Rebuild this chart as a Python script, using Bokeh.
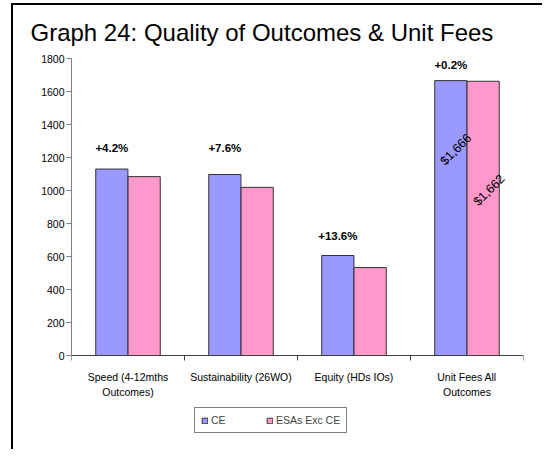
from bokeh.plotting import figure
from bokeh.models import ColumnDataSource, FixedTicker, Legend, LegendItem, LabelSet, Range1d
from bokeh.core.properties import value
from bokeh.transform import dodge
from bokeh.embed import file_html
from bokeh.resources import INLINE
import math

# ---- data ----
categories = ["Speed (4-12mths\nOutcomes)", "Sustainability (26WO)", "Equity (HDs IOs)", "Unit Fees All\nOutcomes"]
ce_values = [1130, 1097, 606, 1666]
esa_values = [1084, 1019, 533, 1662]
pct_labels = ["+4.2%", "+7.6%", "+13.6%", "+0.2%"]
fee_labels = ["$1,666", "$1,662"]
fee_values = [1666, 1662]
y_ticks = [0, 200, 400, 600, 800, 1000, 1200, 1400, 1600, 1800]
series_names = ["CE", "ESAs Exc CE"]

FONT = "Liberation Sans"
CE_COLOR = "#9999FF"
ESA_COLOR = "#FF99CC"
W, H = 542, 449
BAR_W = 0.285
DODGE = 0.143
Y_MAX = 1800
# frame: top at 58px, value 0 at 355px, frame bottom at 440px
Y_MIN = -(440 - 355) * Y_MAX / (355 - 58)

xs = [i + 0.5 for i in range(len(categories))]
src = ColumnDataSource(dict(x=xs, ce=ce_values, esa=esa_values, pct=pct_labels,
                            pct_off=[21, 26, 20, 16]))

p = figure(width=W, height=H, output_backend="svg", toolbar_location=None,
           title="Graph 24: Quality of Outcomes & Unit Fees",
           x_range=Range1d(0, len(categories)), y_range=Range1d(Y_MIN, Y_MAX),
           min_border_left=71, min_border_right=19, min_border_top=58, min_border_bottom=9,
           background_fill_color="white", border_fill_color=None,
           styles={"background-color": "white",
                   "background-image": "linear-gradient(#000,#000), linear-gradient(#000,#000)",
                   "background-size": "2px 100%, 100% 2px",
                   "background-position": "11px 3px, 11px 3px",
                   "background-repeat": "no-repeat"})
p.outline_line_color = None
p.grid.visible = False

p.title.text_font = FONT
p.title.text_font_size = "24px"
p.title.text_font_style = "normal"
p.title.text_color = "black"
p.title.align = "left"
p.title.offset = -41
p.title.standoff = 25

r_ce = p.vbar(x=dodge("x", -DODGE, range=p.x_range), top="ce", width=BAR_W, source=src,
              fill_color=CE_COLOR, line_color="#333333", line_width=1)
r_esa = p.vbar(x=dodge("x", DODGE, range=p.x_range), top="esa", width=BAR_W, source=src,
               fill_color=ESA_COLOR, line_color="#333333", line_width=1)

# percent labels above CE bars
p.add_layout(LabelSet(x=dodge("x", -DODGE, range=p.x_range), y="ce", text="pct", source=src,
                      y_offset="pct_off", text_align="center", text_baseline="middle",
                      text_font=value(FONT), text_font_size=value("11.5px"),
                      text_font_style=value("bold"), text_color="black"))

# rotated fee labels on the Unit Fees bars
fee_src = ColumnDataSource(dict(x=[xs[3] - DODGE, xs[3] + DODGE], y=fee_values, t=fee_labels,
                                xo=[5, 6], yo=[-69, -109]))
p.add_layout(LabelSet(x="x", y="y", text="t", source=fee_src, x_offset="xo", y_offset="yo",
                      angle=math.pi / 4, text_align="center", text_baseline="middle",
                      text_font=value(FONT), text_font_size=value("12.5px"), text_color="black"))

# y axis
yax = p.yaxis[0]
yax.ticker = FixedTicker(ticks=y_ticks)
yax.bounds = (0, Y_MAX)
yax.axis_line_color = "#808080"
yax.major_tick_line_color = "#808080"
yax.major_tick_in = 0
yax.major_tick_out = 5
yax.minor_tick_line_color = None
yax.major_label_standoff = 2
yax.major_label_text_font = FONT
yax.major_label_text_font_size = "10.5px"
yax.major_label_text_color = "black"

# x axis, drawn at value 0
xax = p.xaxis[0]
xax.fixed_location = 0
xax.ticker = FixedTicker(ticks=xs, minor_ticks=list(range(len(categories) + 1)))
xax.major_label_overrides = {x: c for x, c in zip(xs, categories)}
xax.axis_line_color = "#404040"
xax.major_tick_line_color = None
xax.major_tick_in = 0
xax.major_tick_out = 0
xax.minor_tick_line_color = "#404040"
xax.minor_tick_in = 0
xax.minor_tick_out = 5
xax.major_label_standoff = 10
xax.major_label_text_font = FONT
xax.major_label_text_font_size = "10.5px"
xax.major_label_text_color = "black"
xax.major_label_text_line_height = 1.25

legend = Legend(items=[LegendItem(label=series_names[0], renderers=[r_ce]),
                       LegendItem(label=series_names[1], renderers=[r_esa])],
                orientation="horizontal", location=(123, 7),
                glyph_width=7, glyph_height=7, label_standoff=3, label_width=40,
                label_height=10, spacing=15, padding=6, margin=0,
                label_text_font=FONT, label_text_font_size="10.5px",
                border_line_color="black", border_line_width=1,
                background_fill_color="white")
p.add_layout(legend, "center")

open("out.html", "w").write(file_html(p, INLINE))
